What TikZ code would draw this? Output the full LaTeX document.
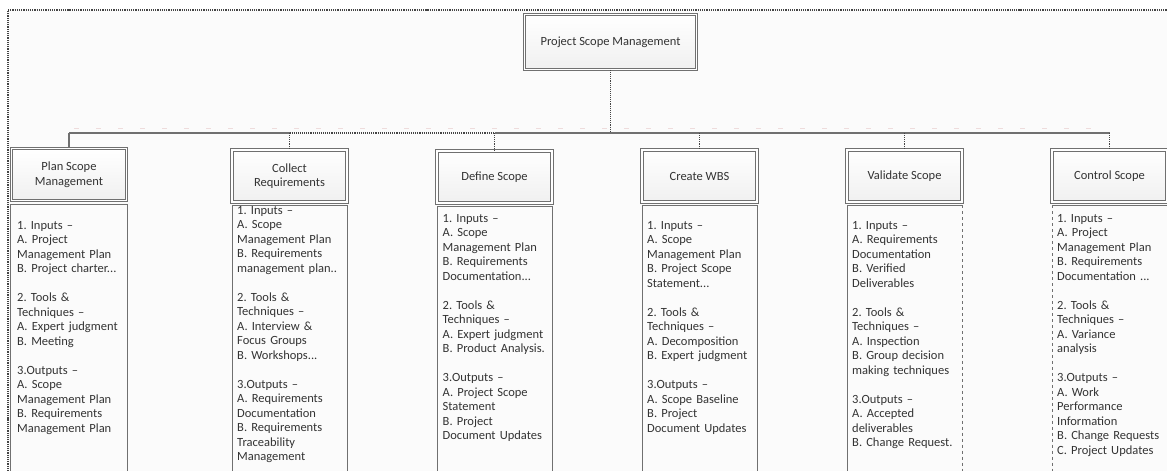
\documentclass[tikz,border=0pt]{standalone}
\usepackage{fontspec}
\setmainfont{Carlito}
\usetikzlibrary{shadows}
\definecolor{txt}{HTML}{333333}
\definecolor{ln}{HTML}{707070}
\definecolor{dk}{HTML}{444444}
\definecolor{bg}{HTML}{FBFBFB}
\definecolor{hfill}{HTML}{F0F0F0}
\definecolor{faint}{HTML}{EEDCDC}
\frenchspacing
\begin{document}
\frenchspacing
\begin{tikzpicture}[x=1bp,y=-1bp,
  font=\fontsize{12.5bp}{14.5bp}\selectfont\frenchspacing, text=txt,
  hdr/.style={draw=ln, line width=0.9bp, double=white, double distance=1.6bp,
    top color=white, bottom color=hfill, minimum width=115bp, minimum height=52bp, inner sep=0pt,
    align=center, text=txt},
  titlebox/.style={hdr, minimum width=172bp, minimum height=55bp,
    drop shadow={shadow xshift=1.5bp, shadow yshift=-1.5bp, fill=gray!40}},
  boxline/.style={draw=ln, line width=0.9bp},
  bodytext/.style={anchor=north west, inner sep=0pt, align=left, text width=112bp, text=txt},
  link/.style={draw=ln, line width=1.1bp},
  dlink/.style={draw=dk, line width=1.1bp, densely dotted}
]
\useasboundingbox (0,0) rectangle (1167,471);
% frame
\fill[bg] (8,10) rectangle (1180,480);
\draw[dk, densely dotted, line width=1.2bp] (8,480) -- (8,10) -- (1180,10);

% title
\node[titlebox] (title) at (610.5,42) {Project Scope Management};

% headers
\node[hdr] (plan) at (69,174.5) {Plan Scope\\Management};
\node[hdr] (collect) at (289.5,176) {Collect\\Requirements};
\node[hdr] (define) at (494.5,177) {Define Scope};
\node[hdr] (wbs) at (699.5,176) {Create WBS};
\node[hdr] (validate) at (904.5,176) {Validate Scope};
\node[hdr] (control) at (1109.5,176) {Control Scope};

% body boxes
\draw[boxline] (10.5,480) |- (127.5,204.5) -- (127.5,480);
\draw[boxline] (232,480) |- (347,205.5) -- (347,480);
\draw[boxline] (437,480) |- (552,206) -- (552,480);
\draw[boxline] (642,480) |- (757,205.5) -- (757,480);
\draw[boxline] (847,480) |- (962,205.5);
\draw[boxline, dashed] (962,205.5) -- (962,480);
\draw[boxline] (1052,205.5) -- (1170,205.5);
\draw[boxline, dashed] (1052,205.5) -- (1052,480);

% connectors
\coordinate (bar) at (0,133);
\draw[faint, line width=0.8bp, dash pattern=on 5bp off 17bp] (74,128) -- (1100,128);
\draw[dlink] (title.south) -- (title.south |- bar);
\draw[link] (plan.north |- bar) -- (collect.north |- bar);
\draw[dlink] (collect.north |- bar) -- (define.north |- bar);
\draw[link] (define.north |- bar) -- (control.north |- bar);
\draw[link] (plan.north |- bar) -- (plan.north);
\draw[dlink] (collect.north |- bar) -- (collect.north);
\draw[dlink] (define.north |- bar) -- (define.north);
\draw[dlink] (wbs.north |- bar) -- (wbs.north);
\draw[dlink] (validate.north |- bar) -- (validate.north);
\draw[dlink] (control.north |- bar) -- (control.north);

% body texts
\node[bodytext] (plantext) at (17,221) {1. Inputs --\\A. Project\\Management Plan\\B. Project charter...\\[14.5bp]2. Tools \&\\Techniques --\\A. Expert judgment\\B. Meeting\\[14.5bp]3.Outputs --\\A. Scope\\Management Plan\\B. Requirements\\Management Plan};
\node[bodytext] (collecttext) at (237,206) {1. Inputs --\\A. Scope\\Management Plan\\B. Requirements\\management plan..\\[14.5bp]2. Tools \&\\Techniques --\\A. Interview \&\\Focus Groups\\B. Workshops...\\[14.5bp]3.Outputs --\\A. Requirements\\Documentation\\B. Requirements\\Traceability\\Management};
\node[bodytext] (definetext) at (442.5,214) {1. Inputs --\\A. Scope\\Management Plan\\B. Requirements\\Documentation...\\[14.5bp]2. Tools \&\\Techniques --\\A. Expert judgment\\B. Product Analysis.\\[14.5bp]3.Outputs --\\A. Project Scope\\Statement\\B. Project\\Document Updates};
\node[bodytext] (wbstext) at (647,221) {1. Inputs --\\A. Scope\\Management Plan\\B. Project Scope\\Statement...\\[14.5bp]2. Tools \&\\Techniques --\\A. Decomposition\\B. Expert judgment\\[14.5bp]3.Outputs --\\A. Scope Baseline\\B. Project\\Document Updates};
\node[bodytext] (validatetext) at (852,221) {1. Inputs --\\A. Requirements\\Documentation\\B. Verified\\Deliverables\\[14.5bp]2. Tools \&\\Techniques --\\A. Inspection\\B. Group decision\\making techniques\\[14.5bp]3.Outputs --\\A. Accepted\\deliverables\\B. Change Request.};
\node[bodytext] (controltext) at (1057,214) {1. Inputs --\\A. Project\\Management Plan\\B. Requirements\\Documentation ...\\[14.5bp]2. Tools \&\\Techniques --\\A. Variance\\analysis\\[14.5bp]3.Outputs --\\A. Work\\Performance\\Information\\B. Change Requests\\C. Project Updates};
\end{tikzpicture}
\end{document}
